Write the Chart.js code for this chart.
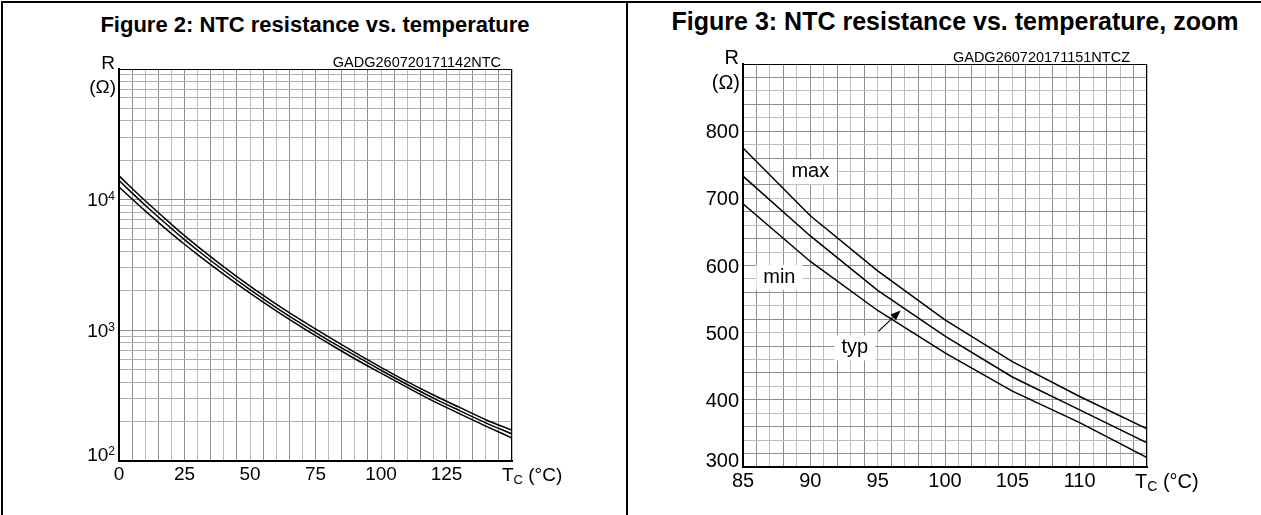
<!doctype html>
<html lang="en">
<head>
<meta charset="utf-8">
<title>NTC resistance vs. temperature</title>
<script src="https://cdn.jsdelivr.net/npm/chart.js@4.4.0/dist/chart.umd.min.js"></script>
<style>
  body { margin: 0; background: #fff; }
  #page { position: relative; width: 1261px; height: 515px; overflow: hidden; font-family: "Liberation Sans", Arial, sans-serif; }
  .rule { position: absolute; background: #000; }
  .title { position: absolute; font-weight: bold; text-align: center; white-space: nowrap; line-height: 1; color: #000; }
  canvas { position: absolute; top: 0; }
</style>
</head>
<body>
<div id="page">
  <div class="rule" style="left:1px;top:1px;width:2px;height:514px"></div>
  <div class="rule" style="left:1px;top:1px;width:1260px;height:2px"></div>
  <div class="rule" style="left:626px;top:1px;width:2px;height:514px"></div>
  <div class="title" style="left:3px;width:624px;top:14px;font-size:22px">Figure 2: NTC resistance vs. temperature</div>
  <div class="title" style="left:640px;width:630px;top:9px;font-size:25px">Figure 3: NTC resistance vs. temperature, zoom</div>
  <canvas id="full" width="627" height="515" style="left:0"></canvas>
  <canvas id="zoom" width="634" height="515" style="left:627px"></canvas>
</div>

<script>
// Figure 2, 0..150 °C, log scale
const fullTemps = [0, 10, 20, 25, 30, 40, 50, 60, 70, 80, 90, 100, 110, 120, 130, 140, 150];
const fullMax = [15200, 9800, 6480, 5300, 4390, 3060, 2180, 1590, 1180, 890, 678, 521, 405, 320, 257, 207, 172];
const fullTyp = [14000, 9060, 6020, 4950, 4100, 2870, 2050, 1495, 1110, 839, 644, 495, 385, 303, 243, 196, 161];
const fullMin = [12500, 8200, 5500, 4560, 3800, 2680, 1925, 1410, 1050, 795, 606, 470, 366, 287, 230, 185, 150];
const fullXLabels = [0, 25, 50, 75, 100, 125];
const fullYLabels = [100, 1000, 10000];

// Figure 3, 85..115 °C zoom
const zoomTemps = [85, 90, 95, 100, 105, 110, 115];
const zoomMax = [775, 674, 592, 519, 457, 405, 357];
const zoomTyp = [733, 644, 563, 495, 434, 385, 336];
const zoomMin = [692, 606, 533, 470, 413, 366, 314];
const zoomXLabels = [85, 90, 95, 100, 105, 110];
const zoomYLabels = [300, 400, 500, 600, 700, 800];

const FONT = '"Liberation Sans", Arial, sans-serif';
Chart.defaults.font.family = FONT;
Chart.defaults.color = '#000';

const DARK = '#8e8e8e', LIGHT = '#bdbdbd';

// minor lines of the log grid, 100 .. 100000
const logGrid = [];
[100, 1000, 10000].forEach(d => { for (let k = 1; k < 10; k++) logGrid.push(k * d); });
logGrid.push(100000);

function curve(xs, ys, tension) {
  return {
    data: xs.map((x, i) => ({ x: x, y: ys[i] })),
    borderColor: '#000', borderWidth: 1.5, pointRadius: 0, fill: false,
    tension: tension, cubicInterpolationMode: tension ? 'monotone' : 'default'
  };
}

const decor = {
  id: 'decor',
  afterDraw(chart, args, o) {
    const ctx = chart.ctx, a = chart.chartArea, x = chart.scales.x, y = chart.scales.y;
    ctx.save();
    ctx.strokeStyle = '#000';
    ctx.lineWidth = 1;
    ctx.beginPath();
    ctx.moveTo(a.left, a.top + 0.5); ctx.lineTo(a.right, a.top + 0.5);
    ctx.moveTo(a.right - 0.5, a.top); ctx.lineTo(a.right - 0.5, a.bottom);
    ctx.stroke();
    ctx.fillStyle = '#000';

    // notes with white boxes (zoom figure)
    (o.notes || []).forEach(n => {
      ctx.font = o.size + 'px ' + FONT;
      const w = ctx.measureText(n.text).width;
      const cx = x.getPixelForValue(n.x), cy = y.getPixelForValue(n.y);
      ctx.fillStyle = '#fff';
      ctx.fillRect(cx - w / 2 - 7, cy - 12, w + 14, 25);
      ctx.fillStyle = '#000';
      ctx.textAlign = 'center';
      ctx.textBaseline = 'alphabetic';
      ctx.fillText(n.text, cx, cy + o.size * 0.28);
    });
    if (o.arrow) {
      const x1 = x.getPixelForValue(o.arrow.x1), y1 = y.getPixelForValue(o.arrow.y1);
      const x2 = x.getPixelForValue(o.arrow.x2), y2 = y.getPixelForValue(o.arrow.y2);
      const ang = Math.atan2(y2 - y1, x2 - x1);
      ctx.lineWidth = 1.2;
      ctx.beginPath(); ctx.moveTo(x1, y1); ctx.lineTo(x2 - 6 * Math.cos(ang), y2 - 6 * Math.sin(ang)); ctx.stroke();
      ctx.beginPath();
      ctx.moveTo(x2, y2);
      ctx.lineTo(x2 - 10 * Math.cos(ang) + 4 * Math.sin(ang), y2 - 10 * Math.sin(ang) - 4 * Math.cos(ang));
      ctx.lineTo(x2 - 10 * Math.cos(ang) - 4 * Math.sin(ang), y2 - 10 * Math.sin(ang) + 4 * Math.cos(ang));
      ctx.closePath(); ctx.fill();
    }

    // y tick labels, the lowest one sits on the axis
    const cap = o.size * 0.716;
    ctx.textAlign = 'right';
    ctx.textBaseline = 'alphabetic';
    o.yLabels.forEach(v => {
      const py = Math.min(y.getPixelForValue(v), a.bottom - cap / 2);
      if (o.log) {
        const exp = String(Math.round(Math.log10(v)));
        ctx.font = o.supSize + 'px ' + FONT;
        const ew = ctx.measureText(exp).width;
        ctx.fillText(exp, a.left - 4, py + 0.5);
        ctx.font = o.size + 'px ' + FONT;
        ctx.fillText('10', a.left - 4 - ew, py + cap / 2);
      } else {
        ctx.font = o.size + 'px ' + FONT;
        ctx.fillText(String(v), a.left - 4, py + cap / 2);
      }
    });

    // axis names
    ctx.font = o.size + 'px ' + FONT;
    ctx.fillText('R', a.left - 4, a.top);
    ctx.fillText('(Ω)', a.left - 3, a.top + o.omegaDy);

    ctx.font = o.codeSize + 'px ' + FONT;
    ctx.fillText(o.code, a.right - o.codeInset, a.top - 2);

    const base = a.bottom + o.xPad + 0.6 * o.size + 0.3465 * o.size;
    let tx = a.right - o.tcInset;
    ctx.textAlign = 'left';
    ctx.font = o.size + 'px ' + FONT;
    ctx.fillText('T', tx, base);
    tx += ctx.measureText('T').width;
    ctx.font = Math.round(o.size * 0.7) + 'px ' + FONT;
    ctx.fillText('C', tx, base + 3);
    tx += ctx.measureText('C').width;
    ctx.font = o.size + 'px ' + FONT;
    ctx.fillText(' (°C)', tx, base);
    ctx.restore();
  }
};

function makeChart(id, cfg) {
  const W = cfg.canvasW, H = 515;
  return new Chart(document.getElementById(id), {
    type: 'line',
    data: { datasets: cfg.datasets },
    plugins: [decor],
    options: {
      responsive: false,
      animation: false,
      events: [],
      layout: { padding: { left: 0, top: cfg.area.top, right: W - cfg.area.right, bottom: 0 } },
      plugins: { legend: { display: false }, tooltip: { enabled: false }, decor: cfg.decor },
      scales: {
        x: {
          type: 'linear', min: cfg.xMin, max: cfg.xMax,
          afterFit: s => { s.height = H - cfg.area.bottom; },
          ticks: {
            stepSize: cfg.xStep, autoSkip: false, maxRotation: 0, padding: cfg.decor.xPad,
            font: { size: cfg.decor.size },
            callback: v => cfg.xLabels.includes(v) ? String(v) : ''
          },
          grid: { drawTicks: false, lineWidth: 1, color: c => cfg.xGridColor(c.tick.value) },
          border: { color: '#000', width: 2 }
        },
        y: cfg.yScale
      }
    }
  });
}

makeChart('full', {
  canvasW: 627,
  area: { left: 119, right: 512, top: 69, bottom: 461 },
  xMin: 0, xMax: 150, xStep: 5, xLabels: fullXLabels,
  xGridColor: v => (v / 5) % 2 === 1 ? DARK : LIGHT,
  datasets: [curve(fullTemps, fullMax, 0.4), curve(fullTemps, fullTyp, 0.4), curve(fullTemps, fullMin, 0.4)],
  yScale: {
    type: 'logarithmic', min: 100, max: 100000,
    afterFit: s => { s.width = 119; },
    afterBuildTicks: s => { s.ticks = logGrid.map(v => ({ value: v })); },
    ticks: { display: false },
    grid: { drawTicks: false, lineWidth: 1, color: c => [100, 1000, 10000, 100000].includes(c.tick.value) ? DARK : '#b0b0b0' },
    border: { color: '#000', width: 2 }
  },
  decor: {
    log: true, yLabels: fullYLabels, size: 19, supSize: 12, xPad: 2,
    omegaDy: 24, code: 'GADG260720171142NTC', codeSize: 14.5, codeInset: 11, tcInset: 10
  }
});

makeChart('zoom', {
  canvasW: 634,
  area: { left: 116, right: 520, top: 64, bottom: 467 },
  xMin: 85, xMax: 115, xStep: 1, xLabels: zoomXLabels,
  xGridColor: v => (v - 85) % 2 === 1 ? DARK : LIGHT,
  datasets: [curve(zoomTemps, zoomMax, 0), curve(zoomTemps, zoomTyp, 0), curve(zoomTemps, zoomMin, 0)],
  yScale: {
    type: 'linear', min: 300, max: 900,
    afterFit: s => { s.width = 116; },
    ticks: { display: false, stepSize: 20 },
    grid: { drawTicks: false, lineWidth: 1, color: c => ((c.tick.value - 300) / 20) % 2 === 1 ? DARK : LIGHT },
    border: { color: '#000', width: 2 }
  },
  decor: {
    log: false, yLabels: zoomYLabels, size: 20, xPad: 2,
    omegaDy: 25, code: 'GADG260720171151NTCZ', codeSize: 14.5, codeInset: 17, tcInset: 12,
    notes: [{ text: 'max', x: 90, y: 740 }, { text: 'min', x: 87.7, y: 583 }, { text: 'typ', x: 93.3, y: 478 }],
    arrow: { x1: 95.05, y1: 502, x2: 96.7, y2: 533 }
  }
});
</script>
</body>
</html>
